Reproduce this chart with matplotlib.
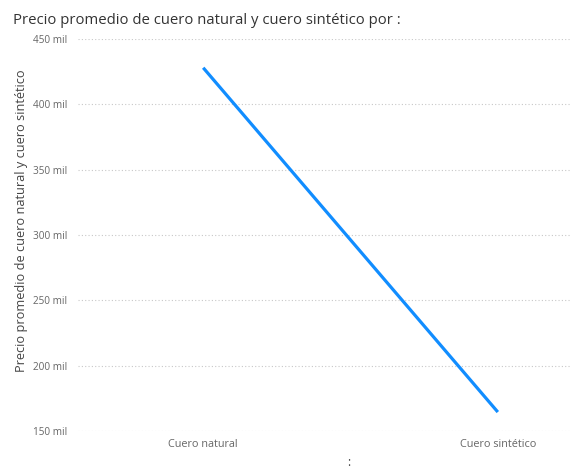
import matplotlib
matplotlib.use("Agg")
import matplotlib.pyplot as plt
from matplotlib.ticker import FuncFormatter

categories = ["Cuero natural", "Cuero sintético"]
precio = [428, 164.5]  # miles
yticks = [150, 200, 250, 300, 350, 400, 450]

plt.rcParams['font.family'] = ['Open Sans', 'DejaVu Sans']

fig = plt.figure(figsize=(5.71, 4.68), dpi=100)
W, H = 571, 468
ax = fig.add_axes([78 / W, 1 - 431 / H, (570 - 78) / W, (431 - 39) / H])

x = list(range(len(categories)))
ax.plot(x, precio, color="#118DFF", linewidth=2.3, solid_capstyle="butt")

ax.set_ylim(150, 450)
ax.set_xlim(-0.425, 1.245)
ax.set_yticks(yticks)
ax.yaxis.set_major_formatter(FuncFormatter(lambda v, p: f"{int(v)} mil"))
ax.set_xticks(x)
ax.set_xticklabels(categories)
ax.tick_params(axis="both", length=0, colors="#666666")
ax.tick_params(axis="y", pad=8, labelsize=7.2)
ax.tick_params(axis="x", pad=6, labelsize=7.8)
ax.grid(axis="y", linestyle=(0, (1, 2)), color="#c8c8c8", linewidth=0.8)
for s in ax.spines.values():
    s.set_visible(False)

fig.text(13 / W, 1 - 21 / H, "Precio promedio de cuero natural y cuero sintético por :",
         fontsize=10.7, color="#333333", va="center", ha="left")
fig.text(22 / W, 1 - 221 / H, "Precio promedio de cuero natural y cuero sintético",
         rotation=90, fontsize=9.2, color="#444444", va="center", ha="center")
fig.text(349 / W, 1 - 466 / H, ":", fontsize=8.5, color="#444444", va="baseline", ha="center")

fig.savefig("out.png", dpi=100)
